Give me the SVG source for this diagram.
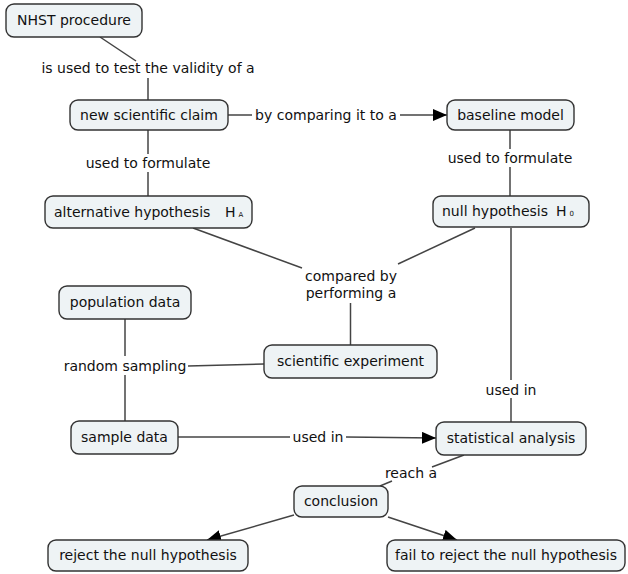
<svg xmlns="http://www.w3.org/2000/svg" width="628" height="574" viewBox="0 0 628 574">
<style>
.n rect{fill:#eef3f5;stroke:#333;stroke-width:1.4}
text{font-family:"DejaVu Sans",Verdana,sans-serif;font-size:14px;fill:#111}
.c{text-anchor:middle}
.ln{stroke:#444;stroke-width:1.5;fill:none}
.sub{font-size:7px}
</style>
<defs>
<marker id="ah" markerUnits="userSpaceOnUse" markerWidth="16" markerHeight="14" refX="14" refY="6" orient="auto">
<path d="M0,0 L14,6 L0,12 z" fill="#000"/>
</marker>
</defs>
<rect width="628" height="574" fill="#fff"/>
<g id="connectors">
<line class="ln" x1="100" y1="37" x2="136" y2="61"/>
<line class="ln" x1="148" y1="78" x2="148" y2="100"/>
<line class="ln" x1="148" y1="130" x2="148" y2="154"/>
<line class="ln" x1="148" y1="172" x2="148" y2="196"/>
<line class="ln" x1="228" y1="115" x2="252" y2="115"/>
<line class="ln" x1="400" y1="115" x2="447" y2="115" marker-end="url(#ah)"/>
<line class="ln" x1="510" y1="130" x2="510" y2="149"/>
<line class="ln" x1="510" y1="167" x2="510" y2="196"/>
<line class="ln" x1="193" y1="228" x2="302" y2="268"/>
<line class="ln" x1="475" y1="228" x2="398" y2="264"/>
<line class="ln" x1="350.5" y1="303" x2="350.5" y2="345"/>
<line class="ln" x1="511" y1="228" x2="511" y2="380"/>
<line class="ln" x1="511" y1="398" x2="511" y2="422"/>
<line class="ln" x1="125" y1="319" x2="125" y2="356"/>
<line class="ln" x1="125" y1="375" x2="125" y2="421"/>
<line class="ln" x1="264" y1="364" x2="188" y2="366"/>
<line class="ln" x1="178" y1="437" x2="290" y2="437"/>
<line class="ln" x1="346" y1="437" x2="436" y2="438" marker-end="url(#ah)"/>
<line class="ln" x1="464" y1="455" x2="432" y2="467"/>
<line class="ln" x1="392" y1="481" x2="380" y2="486"/>
<line class="ln" x1="294" y1="515" x2="207" y2="540" marker-end="url(#ah)"/>
<line class="ln" x1="388" y1="517" x2="457" y2="540" marker-end="url(#ah)"/>
<g id="labels">
<text class="c" x="148" y="73">is used to test the validity of a</text>
<text class="c" x="148" y="168">used to formulate</text>
<text class="c" x="326" y="120">by comparing it to a</text>
<text class="c" x="510" y="163">used to formulate</text>
<text class="c" x="351" y="281">compared by</text>
<text class="c" x="351" y="298">performing a</text>
<text class="c" x="511" y="395">used in</text>
<text class="c" x="125" y="371">random sampling</text>
<text class="c" x="318" y="442">used in</text>
<text class="c" x="411" y="478">reach a</text>
</g>
</g>
<g id="nhst" class="n"><rect x="6" y="4" width="136" height="33" rx="8"/><text class="c" x="74" y="25">NHST procedure</text></g>
<g id="claim" class="n"><rect x="70" y="100" width="158" height="30" rx="8"/><text class="c" x="149" y="120">new scientific claim</text></g>
<g id="baseline" class="n"><rect x="447" y="100" width="127" height="30" rx="8"/><text class="c" x="510.5" y="120">baseline model</text></g>
<g id="alt" class="n"><rect x="45" y="196" width="207" height="32" rx="8"/><text x="54" y="217">alternative hypothesis</text><text x="225" y="217">H<tspan class="sub" dx="3">A</tspan></text></g>
<g id="null" class="n"><rect x="433" y="196" width="156" height="31" rx="8"/><text x="442" y="216">null hypothesis</text><text x="556" y="216">H<tspan class="sub" dx="3">0</tspan></text></g>
<g id="population" class="n"><rect x="59" y="286" width="132" height="33" rx="8"/><text class="c" x="125" y="307">population data</text></g>
<g id="experiment" class="n"><rect x="264" y="345" width="173" height="33" rx="8"/><text class="c" x="350.5" y="366">scientific experiment</text></g>
<g id="sample" class="n"><rect x="71" y="421" width="107" height="33" rx="8"/><text class="c" x="124.5" y="442">sample data</text></g>
<g id="analysis" class="n"><rect x="436" y="422" width="150" height="33" rx="8"/><text class="c" x="511" y="443">statistical analysis</text></g>
<g id="conclusion" class="n"><rect x="294" y="486" width="94" height="31" rx="8"/><text class="c" x="341" y="506">conclusion</text></g>
<g id="reject" class="n"><rect x="48" y="540" width="200" height="31" rx="8"/><text class="c" x="148" y="560">reject the null hypothesis</text></g>
<g id="fail" class="n"><rect x="387" y="540" width="238" height="31" rx="8"/><text class="c" x="506" y="560">fail to reject the null hypothesis</text></g>
</svg>
